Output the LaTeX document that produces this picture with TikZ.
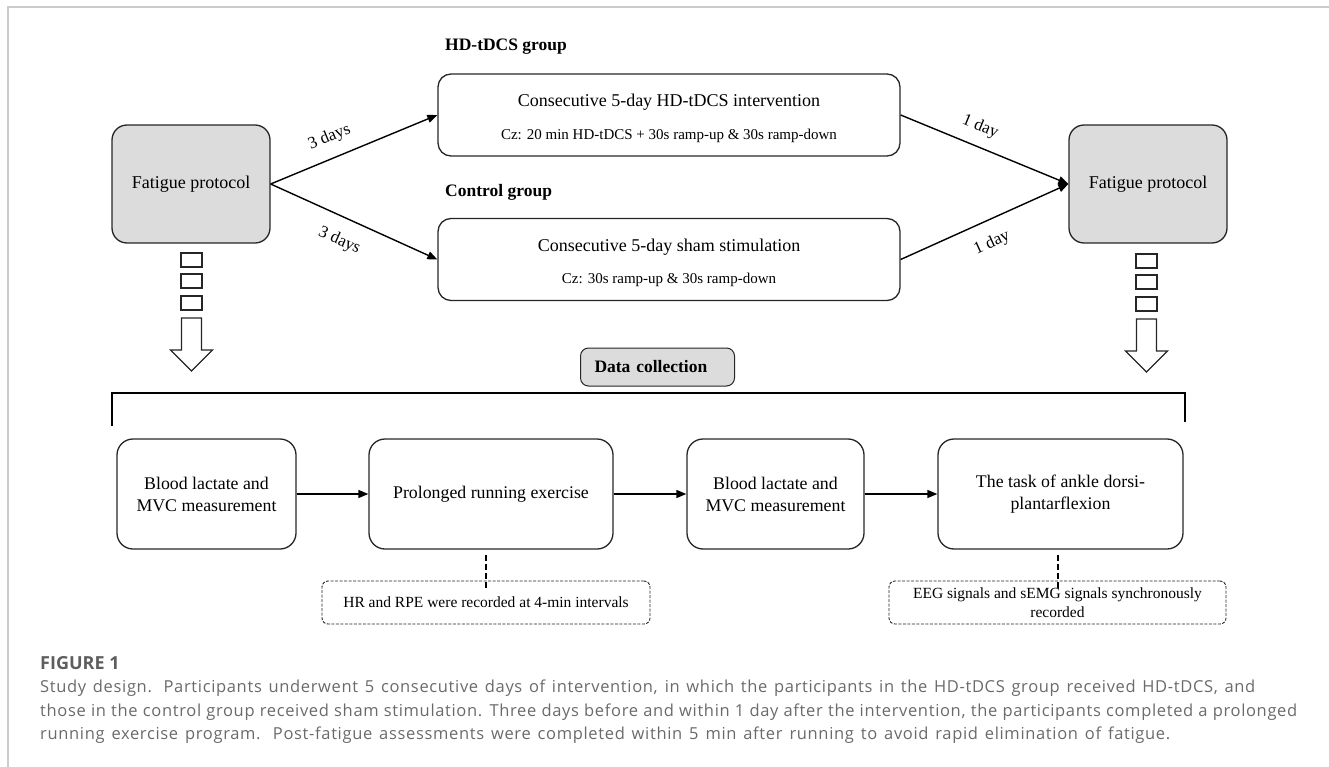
\documentclass[tikz,border=0pt]{standalone}
\usepackage{fontspec}
\setmainfont{Liberation Serif}
\newfontfamily\capfont[LetterSpace=4]{Open Sans}
\newfontfamily\figfont{Open Sans}
\usetikzlibrary{arrows.meta}
\definecolor{boxgray}{HTML}{DCDCDC}
\definecolor{capgray}{HTML}{6A6A6A}
\definecolor{figgray}{HTML}{5E5E5E}
\definecolor{framegray}{HTML}{CCCCCC}
\tikzset{
  fatbox/.style={draw=black!85, line width=1.3pt, fill=boxgray, rounded corners=15pt,
    minimum width=158pt, minimum height=118pt, inner sep=0pt, font=\fontsize{18}{21}\selectfont},
  grpbox/.style={draw=black!85, line width=1.3pt, rounded corners=13pt,
    minimum width=462pt, minimum height=82pt, inner sep=0pt, align=center},
  stepbox/.style={draw=black!85, line width=1.3pt, rounded corners=16pt,
    minimum height=110pt, inner sep=0pt, align=center, font=\fontsize{17.8}{22}\selectfont},
  notebox/.style={draw=black!85, line width=0.9pt, dash pattern=on 3pt off 1.5pt, rounded corners=6pt,
    minimum height=43pt, inner sep=0pt, align=center, font=\fontsize{15.5}{19}\selectfont},
  arr/.style={line width=1.4pt, -{Triangle[length=10pt,width=8pt]}},
  lab/.style={font=\fontsize{17}{20}\selectfont, inner sep=2pt},
  grouptitle/.style={font=\fontsize{17.5}{20}\selectfont\bfseries, anchor=west, inner sep=0pt},
  blk/.style={line width=1.1pt, draw=black!85},
  capline/.style={anchor=base west, inner sep=0pt, text=capgray, font=\capfont\fontsize{16.5}{20}\selectfont}
}
\begin{document}
\begin{tikzpicture}[x=1pt,y=-1pt]
\useasboundingbox (0,0) rectangle (1329,767);
% frame
\draw[framegray, line width=2pt] (7.5,767) -- (7.5,7.5) -- (1329,7.5);

% top row
\node[fatbox] (f1) at (191,184) {Fatigue protocol};
\node[fatbox] (f2) at (1148,184) {Fatigue protocol};
\node[grouptitle] (t1) at (445,47) {HD-tDCS group};
\node[grouptitle] (t2) at (445,192) {Control group};
\node[grpbox] (hd) at (669,115)
  {\fontsize{18}{22}\selectfont\rule{0pt}{19pt}Consecutive 5-day HD-tDCS intervention\\[17.5pt]
   \fontsize{15}{22}\selectfont Cz: 20 min HD-tDCS + 30s ramp-up \& 30s ramp-down};
\node[grpbox] (sh) at (669,259.5)
  {\fontsize{18}{22}\selectfont\rule{0pt}{19pt}Consecutive 5-day sham stimulation\\[17.5pt]
   \fontsize{15}{22}\selectfont Cz: 30s ramp-up \& 30s ramp-down};

\draw[arr] (f1.east) -- node[lab, sloped, above=10pt, pos=0.4] {3 days} (hd.west);
\draw[arr] (f1.east) -- node[lab, sloped, below=13pt, pos=0.47] {3 days} (sh.west);
\draw[arr] (hd.east) -- node[lab, sloped, above=9pt, pos=0.43] {1 day} (f2.west);
\draw[arr] (sh.east) -- node[lab, sloped, below=12pt, pos=0.49] {1 day} (f2.west);

% squares and block arrows
\foreach \cx/\dy in {191.5/0, 1146.5/1}{
  \draw[blk] (\cx-10.5,253+\dy) rectangle (\cx+10.5,267+\dy);
  \draw[blk] (\cx-10.5,274+\dy) rectangle (\cx+10.5,288+\dy);
  \draw[blk] (\cx-10.5,296+\dy) rectangle (\cx+10.5,310+\dy);
  \draw[blk, line join=miter] (\cx-10,318+\dy) -- (\cx+10,318+\dy) -- (\cx+10,350+\dy) -- (\cx+21,350+\dy)
     -- (\cx,371+\dy) -- (\cx-21,350+\dy) -- (\cx-10,350+\dy) -- cycle;
}

% data collection
\node[draw=black!85, line width=1pt, fill=boxgray, rounded corners=8pt, minimum height=38pt,
      text width=126pt, align=left, inner xsep=14pt, inner ysep=0pt, anchor=west,
      font=\fontsize{17.5}{20}\selectfont\bfseries] (dc) at (580,367) {Data collection};
\draw[line width=1.3pt] (112,426) |- (1185,393) -- (1185,422);

% bottom row
\node[stepbox, minimum width=179pt] (b1) at (206.5,494) {Blood lactate and\\MVC measurement};
\node[stepbox, minimum width=244pt] (b2) at (491,494) {Prolonged running exercise};
\node[stepbox, minimum width=177pt] (b3) at (775.5,494) {Blood lactate and\\MVC measurement};
\node[stepbox, minimum width=245pt] (b4) at (1060.5,494) {The task of ankle dorsi-\\plantarflexion};
\draw[arr] (b1) -- (b2);
\draw[arr] (b2) -- (b3);
\draw[arr] (b3) -- (b4);

\node[notebox, minimum width=328pt] (n1) at (486,602.5) {HR and RPE were recorded at 4-min intervals};
\node[notebox, minimum width=337pt] (n2) at (1057.5,602.5) {EEG signals and sEMG signals synchronously\\recorded};
\draw[line width=2pt, dash pattern=on 6pt off 3pt] ([yshift=-7pt]n1.north) -- ([yshift=-3pt]n1.north |- b2.south);
\draw[line width=2pt, dash pattern=on 6pt off 3pt] ([yshift=-7pt]n2.north) -- ([yshift=-3pt]n2.north |- b4.south);

% caption
\node[anchor=base west, inner sep=0pt, text=figgray, font=\figfont\fontsize{18}{22}\selectfont\bfseries] (fig) at (40,669.5) {FIGURE 1};
\node[capline] (c1) at (40,692.5) {\makebox[1215pt][s]{Study design. Participants underwent 5 consecutive days of intervention, in which the participants in the HD-tDCS group received HD-tDCS, and}};
\node[capline] (c2) at (40,716) {\makebox[1257pt][s]{those in the control group received sham stimulation. Three days before and within 1 day after the intervention, the participants completed a prolonged}};
\node[capline] (c3) at (40,739.5) {\makebox[1130pt][s]{running exercise program. Post-fatigue assessments were completed within 5 min after running to avoid rapid elimination of fatigue.}};
\end{tikzpicture}
\end{document}
